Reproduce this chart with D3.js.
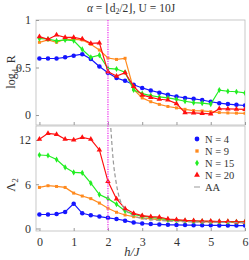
<!DOCTYPE html>
<html><head><meta charset="utf-8">
<script src="https://cdn.jsdelivr.net/npm/d3@7"></script>
<style>body{margin:0;background:#fff}svg{display:block}svg text{font-family:'Liberation Serif','Times New Roman','DejaVu Serif',serif !important;fill:#333}</style>
</head><body><svg id="c" width="249" height="260" style="font-family:'Liberation Serif','DejaVu Serif',serif"></svg>
<script>
const hVals = [0,0.25,0.5,0.75,1,1.25,1.5,1.75,2,2.25,2.5,2.75,3,3.25,3.5,3.75,4,4.25,4.5,4.75,5,5.25,5.5,5.75,6];
const seriesNames = ["N = 4","N = 9","N = 15","N = 20"];
const logR_N4  = [0.595,0.595,0.595,0.607,0.625,0.64,0.59,0.51,0.445,0.39,0.36,0.318,0.285,0.258,0.235,0.212,0.195,0.18,0.17,0.158,0.14,0.125,0.115,0.107,0.1];
const logR_N9  = [0.765,0.79,0.765,0.797,0.797,0.79,0.744,0.684,0.6,0.585,0.597,0.27,0.18,0.14,0.112,0.09,0.075,0.06,0.047,0.043,0.035,0.026,0.022,0.02,0.018];
const logR_N15 = [0.804,0.8,0.78,0.79,0.783,0.69,0.607,0.63,0.49,0.484,0.45,0.263,0.225,0.205,0.19,0.18,0.165,0.145,0.13,0.125,0.115,0.263,0.25,0.245,0.232];
const logR_N20 = [0.825,0.797,0.842,0.818,0.818,0.8,0.754,0.76,0.456,0.41,0.446,0.3,0.21,0.186,0.166,0.158,0.12,0.024,0.022,0.018,0.012,0.066,0.064,0.062,0.06];
const lam_N4  = [1.9,1.9,1.95,2.25,3.37,2.06,1.8,1.62,1.45,1.29,1.06,0.8,0.68,0.6,0.55,0.5,0.48,0.46,0.45,0.44,0.43,0.42,0.41,0.4,0.4];
const lam_N9  = [5.57,5.8,5.7,5.57,4.8,4.4,4.05,3.45,2.75,2.2,1.83,1.6,1.42,1.3,1.2,1.1,1.05,1.0,0.95,0.9,0.88,0.85,0.83,0.82,0.8];
const lam_N15 = [9.97,9.9,9.35,8.3,7.6,7.55,6.15,4.6,4.05,3.3,2.37,1.92,1.68,1.5,1.36,1.2,1.1,1.05,1.0,0.97,0.95,0.93,0.92,0.9,0.9];
const lam_N20 = [12.1,12.9,12.76,12.1,12.0,12.35,12.1,10.65,6.4,4.0,2.7,2.06,1.74,1.6,1.55,1.29,1.2,1.1,1.05,1.0,1.0,0.95,0.95,0.9,0.9];
const aaH = [2.07,2.1,2.13,2.17,2.22,2.28,2.35,2.45,2.6,2.8,3.0,3.5,4,5,6];
const aaV = [14.5,12.5,10.5,8.5,6.8,5.2,3.9,2.9,2.1,1.6,1.35,1.1,0.95,0.85,0.8];
const topTicks = [0,0.5,1], topTickLabels = ["0","0.5","1"];
const botTicks = [0,6,12], botTickLabels = ["0","6","12"];
const xTicks = [0,1,2,3,4,5,6];
const hCrit = 2;

const colors = ["#1515ff","#ff8a1e","#22ee22","#ff1010"];
const symbols = [d3.symbolCircle,d3.symbolSquare,d3.symbolDiamond,d3.symbolTriangle];
const symSizes = [16,9,11,13];
const FONT = "'Liberation Serif','DejaVu Serif',serif";

const svg = d3.select("#c");
const x = d3.scaleLinear([-0.1,6],[36,245]);
const yT = d3.scaleLinear([-0.105,1],[125,20]);
const yB = d3.scaleLinear([-0.34,13.9],[231,126]);

const defs = svg.append("defs");
defs.append("clipPath").attr("id","cT").append("rect").attr("x",36).attr("y",20).attr("width",209).attr("height",105);
defs.append("clipPath").attr("id","cB").append("rect").attr("x",36).attr("y",126).attr("width",209).attr("height",105);

function panel(y, clip, data, yt, ytl, showX){
  svg.append("rect").attr("x",36).attr("y",y.range()[1]).attr("width",209).attr("height",105)
    .attr("fill","none").attr("stroke","#bbb").attr("stroke-width",0.8);
  const ga = svg.append("g").attr("transform","translate(36,0)")
    .call(d3.axisLeft(y).tickValues(yt).tickFormat((d,i)=>ytl[i]).tickSizeInner(-3).tickSizeOuter(0).tickPadding(5));
  ga.attr("font-family",FONT);
  ga.select(".domain").remove();
  ga.selectAll("line").attr("stroke","#999");
  ga.selectAll("text").attr("font-size",12).attr("fill","#333");
  const gx = svg.append("g").attr("transform",`translate(0,${y.range()[0]})`)
    .call(d3.axisBottom(x).tickValues(xTicks).tickSizeInner(-3).tickSizeOuter(0).tickPadding(6).tickFormat(showX? d3.format("d") : ""));
  gx.attr("font-family",FONT);
  gx.select(".domain").remove();
  gx.selectAll("line").attr("stroke","#999");
  gx.selectAll("text").attr("font-size",12).attr("fill","#333");
  const g = svg.append("g").attr("clip-path",`url(#${clip})`);
  data.forEach((vals,i)=>{
    const pts = hVals.map((h,j)=>[h,vals[j]]);
    g.append("path").attr("d",d3.line().x(d=>x(d[0])).y(d=>y(d[1]))(pts))
      .attr("fill","none").attr("stroke",colors[i]).attr("stroke-width",1.2);
    g.selectAll(null).data(pts).enter().append("path")
      .attr("d",d3.symbol().type(symbols[i]).size(symSizes[i]))
      .attr("transform",d=>`translate(${x(d[0])},${y(d[1])})`).attr("fill",colors[i]);
  });
  return g;
}

panel(yT,"cT",[logR_N4,logR_N9,logR_N15,logR_N20],topTicks,topTickLabels,false);
const gB = panel(yB,"cB",[lam_N4,lam_N9,lam_N15,lam_N20],botTicks,botTickLabels,true);

gB.append("path").attr("d",d3.line().curve(d3.curveMonotoneX).x((d,i)=>x(aaH[i])).y((d,i)=>yB(aaV[i]))(aaH))
  .attr("fill","none").attr("stroke","#999").attr("stroke-width",1.2).attr("stroke-dasharray","4,2.5");

svg.append("line").attr("x1",x(hCrit)).attr("x2",x(hCrit)).attr("y1",20).attr("y2",231)
  .attr("stroke","#ee44ee").attr("stroke-width",1.4).attr("stroke-dasharray","1.2,1.2");

// legend
const lg = svg.append("g");
seriesNames.forEach((n,i)=>{
  const yy = 139 + i*12;
  lg.append("path").attr("d",d3.symbol().type(symbols[i]).size(symSizes[i]+2)).attr("transform",`translate(197,${yy})`).attr("fill",colors[i]);
  lg.append("text").attr("x",205).attr("y",yy+3.5).attr("font-size",10.5).text(n);
});
lg.append("line").attr("x1",194).attr("x2",200).attr("y1",187).attr("y2",187).attr("stroke","#999").attr("stroke-width",1);
lg.append("text").attr("x",205).attr("y",190.5).attr("font-size",10.5).text("AA");

// title
const t = svg.append("text").attr("x",131).attr("y",12).attr("text-anchor","middle").attr("font-size",11.5);
t.append("tspan").attr("font-style","italic").text("α");
t.append("tspan").text(" = ⌊d");
t.append("tspan").attr("font-size",8).attr("dy",2).text("2");
t.append("tspan").attr("dy",-2).text("/2⌋, U = 10J");

// y labels
const yl1 = svg.append("text").attr("transform","translate(15,72) rotate(-90)").attr("text-anchor","middle").attr("font-size",12);
yl1.append("tspan").text("log");
yl1.append("tspan").attr("font-size",8).attr("dy",3).text("d");
yl1.append("tspan").attr("font-size",6).attr("dy",1.5).text("2");
yl1.append("tspan").attr("dy",-4.5).text(" R");
const yl2 = svg.append("text").attr("transform","translate(15,185) rotate(-90)").attr("text-anchor","middle").attr("font-size",12.5);
yl2.append("tspan").text("Λ");
yl2.append("tspan").attr("font-size",8.5).attr("dy",3).text("2");

svg.append("text").attr("x",132).attr("y",256).attr("text-anchor","middle").attr("font-size",12.5).attr("font-style","italic").text("h/J");
</script></body></html>
